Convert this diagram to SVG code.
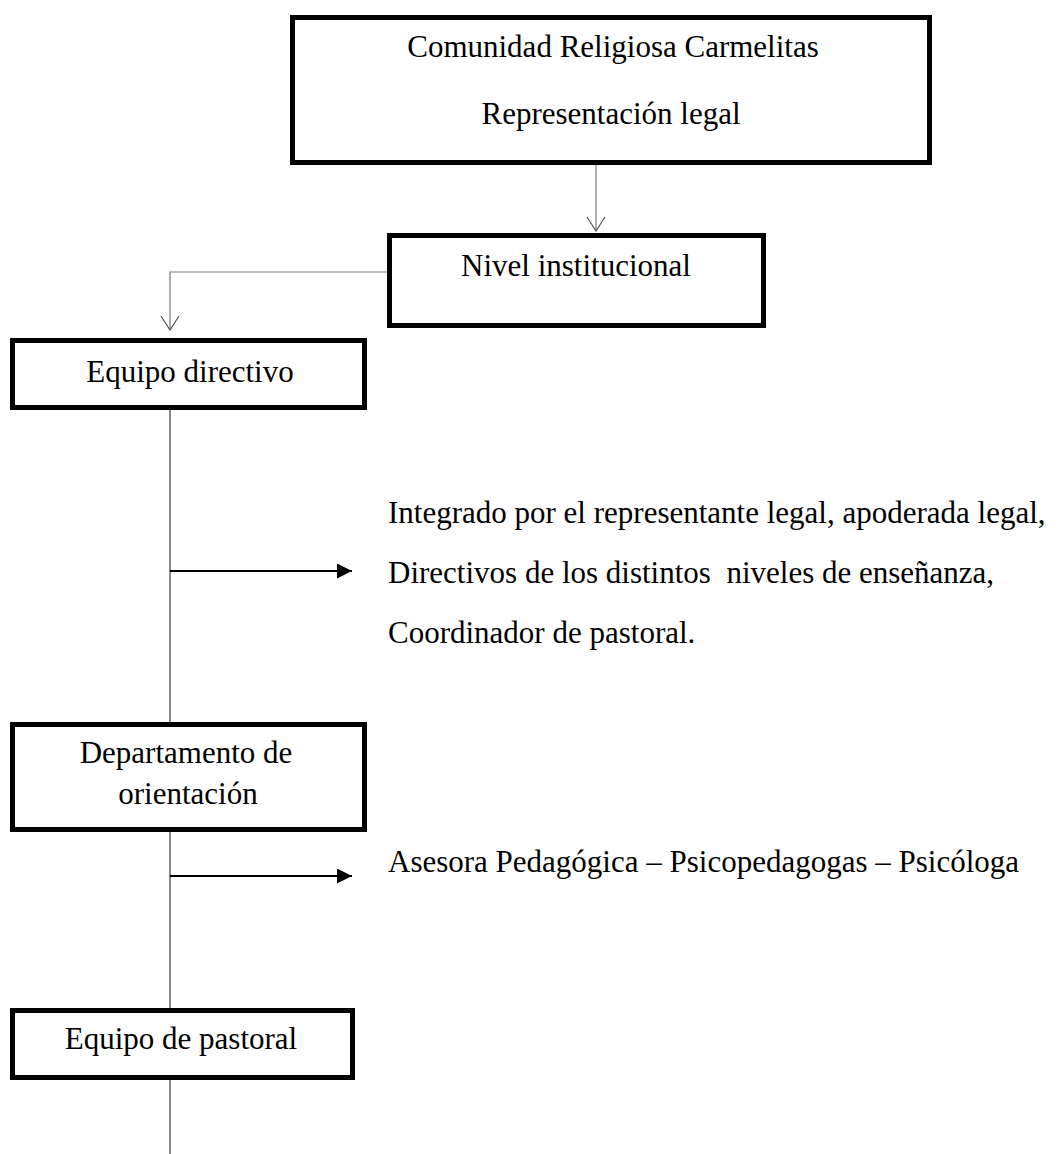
<svg xmlns="http://www.w3.org/2000/svg" width="1057" height="1154" viewBox="0 0 1057 1154">
<style>
.box{fill:#fff;stroke:#000;stroke-width:5}
.t{font-family:"Liberation Serif","Times New Roman",serif;font-size:31px;fill:#000}
.c{text-anchor:middle}
.thin{fill:none;stroke:#7a7a7a;stroke-width:1.2}
.spine{fill:none;stroke:#3a3a3a;stroke-width:1.2}
.bold{fill:none;stroke:#000;stroke-width:2}
</style>
<defs>
<marker id="open" viewBox="0 0 16 20" refX="15" refY="10" markerWidth="16" markerHeight="20" markerUnits="userSpaceOnUse" orient="auto">
<path d="M1,1 L15,10 L1,19" fill="none" stroke="#555" stroke-width="1.2"/>
</marker>
<marker id="solid" viewBox="0 0 16 16" refX="16" refY="8" markerWidth="16" markerHeight="15" markerUnits="userSpaceOnUse" orient="auto">
<path d="M0,0 L16,8 L0,16 Z" fill="#000"/>
</marker>
</defs>
<rect width="1057" height="1154" fill="#fff"/>
<g id="connectors">
<line class="thin" x1="596" y1="165" x2="596" y2="231" marker-end="url(#open)"/>
<polyline class="thin" points="388,272 170,272 170,330" marker-end="url(#open)"/>
<line class="spine" x1="170" y1="410" x2="170" y2="722"/>
<line class="spine" x1="170" y1="832" x2="170" y2="1008"/>
<line class="spine" x1="170" y1="1080" x2="170" y2="1154"/>
<line class="bold" x1="170" y1="571" x2="352" y2="571" marker-end="url(#solid)"/>
<line class="bold" x1="170" y1="876" x2="352" y2="876" marker-end="url(#solid)"/>
</g>
<g id="node-comunidad">
<rect class="box" x="292.5" y="17.5" width="637" height="145"/>
<text class="t c" x="613" y="57">Comunidad Religiosa Carmelitas</text>
<text class="t c" x="611" y="124">Representación legal</text>
</g>
<g id="node-nivel">
<rect class="box" x="389.5" y="235.5" width="374" height="90"/>
<text class="t c" x="576" y="276">Nivel institucional</text>
</g>
<g id="node-equipo-directivo">
<rect class="box" x="12.5" y="340.5" width="352" height="67"/>
<text class="t c" x="190" y="382">Equipo directivo</text>
</g>
<g id="note-directivo">
<text class="t" x="388" y="523">Integrado por el representante legal, apoderada legal,</text>
<text class="t" x="388" y="583" xml:space="preserve">Directivos de los distintos  niveles de enseñanza,</text>
<text class="t" x="388" y="643">Coordinador de pastoral.</text>
</g>
<g id="node-departamento">
<rect class="box" x="12.5" y="724.5" width="352" height="105"/>
<text class="t c" x="186" y="763">Departamento de</text>
<text class="t c" x="188" y="804">orientación</text>
</g>
<g id="note-departamento">
<text class="t" x="388" y="872">Asesora Pedagógica – Psicopedagogas – Psicóloga</text>
</g>
<g id="node-pastoral">
<rect class="box" x="12.5" y="1010.5" width="340" height="67"/>
<text class="t c" x="181" y="1049">Equipo de pastoral</text>
</g>
</svg>
